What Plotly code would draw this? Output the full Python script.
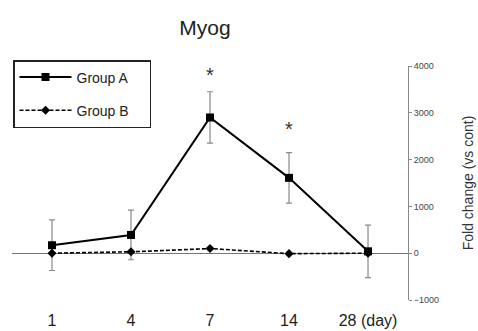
import plotly.graph_objects as go

days = ["1", "4", "7", "14", "28 (day)"]
group_a = [170, 390, 2900, 1610, 40]
group_a_err = [540, 530, 550, 540, 560]
group_b = [0, 30, 100, -10, 0]
star_days = ["7", "14"]
star_y = [3900, 2750]
y_ticks = [-1000, 0, 1000, 2000, 3000, 4000]

pad = "\u00a0" * 4

fig = go.Figure()
fig.add_trace(go.Scatter(
    x=days, y=group_a, name="Group A" + pad, mode="lines+markers",
    line=dict(color="black", width=2),
    marker=dict(symbol="square", size=8, color="black"),
    error_y=dict(type="data", array=group_a_err, color="#8a8a8a", thickness=1.2, width=3),
    legendgroup="a",
))
fig.add_trace(go.Scatter(
    x=days, y=group_b, name="Group B" + pad, mode="lines+markers",
    line=dict(color="black", width=1.6, dash="4px,2px"),
    marker=dict(symbol="diamond", size=7, color="black"),
    legendgroup="b",
))

for d, yv in zip(star_days, star_y):
    fig.add_annotation(x=days.index(d), y=yv, text="*", showarrow=False,
                       font=dict(size=20, color="#333", family="Arial"),
                       yanchor="middle", yshift=-4)

fig.update_layout(
    width=478, height=331,
    margin=dict(l=12, r=70, t=66, b=31, autoexpand=False),
    paper_bgcolor="white", plot_bgcolor="white",
    font=dict(family="Arial, Liberation Sans", color="#333"),
    title=dict(text="Myog", x=205/478, xanchor="center", y=1 - 28/331, yanchor="middle",
               font=dict(size=21, color="#222")),
    showlegend=True,
    legend=dict(xref="container", yref="container", x=13/478, y=1 - 60/331,
                xanchor="left", yanchor="top",
                bordercolor="#222", borderwidth=1.5, bgcolor="white",
                font=dict(size=14, color="#222"), tracegroupgap=12,
                itemwidth=52),
    xaxis=dict(type="category", range=[-0.506, 4.506], showline=False, showgrid=False,
               zeroline=False, ticks="outside", ticklen=6, tickcolor="rgba(0,0,0,0)",
               tickfont=dict(size=16, color="#222"), automargin=False),
    yaxis=dict(side="right", range=[-1000, 4000], tickvals=y_ticks,
               showgrid=False, zeroline=True, zerolinecolor="#777", zerolinewidth=1,
               showline=True, linecolor="#888", linewidth=1,
               ticks="outside", ticklen=3, tickcolor="#888",
               tickfont=dict(size=9, color="#444"), automargin=False,
               title=dict(text="Fold change (vs cont)", font=dict(size=14, color="#333"),
                          standoff=25)),
)

fig.write_html("out.html", config={"displayModeBar": False},
               post_script="document.body.style.margin='0';document.body.style.padding='0';")
